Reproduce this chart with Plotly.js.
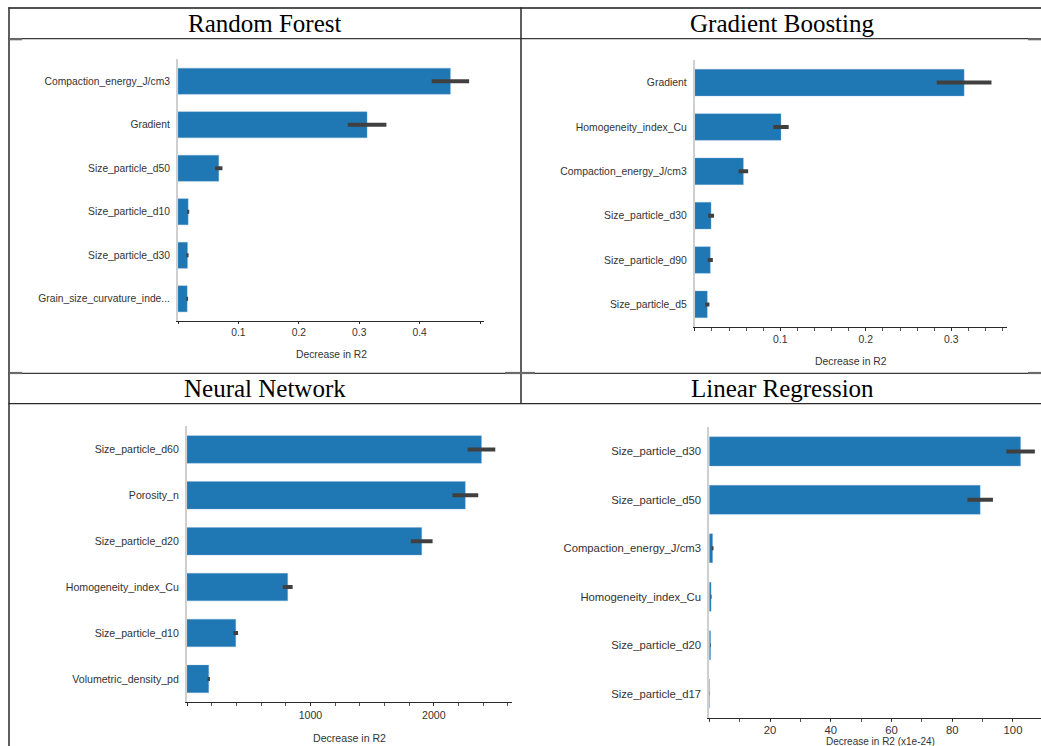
<!DOCTYPE html>
<html>
<head>
<meta charset="utf-8">
<script src="https://cdn.plot.ly/plotly-3.0.1.min.js"></script>
<style>
  html, body { margin: 0; padding: 0; background: #fff; overflow: hidden; }
  #chart { width: 1041px; height: 746px; }
</style>
</head>
<body>
<div id="chart"></div>
<script>
// Permutation feature importance (decrease in R2) for four models

const rfFeatures = ["Compaction_energy_J/cm3", "Gradient", "Size_particle_d50", "Size_particle_d10", "Size_particle_d30", "Grain_size_curvature_inde..."];
const rfValues = [0.451, 0.313, 0.0675, 0.0168, 0.0157, 0.0152];
const rfErrors = [0.031, 0.032, 0.006, 0.0018, 0.0018, 0.0015];

const gbFeatures = ["Gradient", "Homogeneity_index_Cu", "Compaction_energy_J/cm3", "Size_particle_d30", "Size_particle_d90", "Size_particle_d5"];
const gbValues = [0.315, 0.1008, 0.0568, 0.019, 0.0181, 0.0146];
const gbErrors = [0.032, 0.009, 0.0056, 0.0035, 0.003, 0.0025];

const nnFeatures = ["Size_particle_d60", "Porosity_n", "Size_particle_d20", "Homogeneity_index_Cu", "Size_particle_d10", "Volumetric_density_pd"];
const nnValues = [2386, 2255, 1902, 816, 395, 176];
const nnErrors = [112, 105, 88, 40, 19, 10];

const lrFeatures = ["Size_particle_d30", "Size_particle_d50", "Compaction_energy_J/cm3", "Homogeneity_index_Cu", "Size_particle_d20", "Size_particle_d17"];
const lrValues = [102.5, 89.2, 1.1, 0.6, 0.45, 0.12];
const lrErrors = [4.7, 4.2, 0.3, 0.15, 0.1, 0.05];

const panelTitles = ["Random Forest", "Gradient Boosting", "Neural Network", "Linear Regression"];
const rfTickVals = [0, 0.1, 0.2, 0.3, 0.4, 0.5];
const rfTickText = ["", "0.1", "0.2", "0.3", "0.4", ""];
const rfLongTicks = [0, 0.2, 0.4];
const gbTickVals = [0, 0.1, 0.2, 0.3];
const gbTickText = ["", "0.1", "0.2", "0.3"];
const nnTickVals = [0, 1000, 2000];
const nnTickText = ["", "1000", "2000"];
const lrTickVals = [0, 20, 40, 60, 80, 100];
const lrTickText = ["", "20", "40", "60", "80", "100"];
const axisTitle = "Decrease in R2";
const lrAxisTitle = "Decrease in R2 (x1e-24)";

const W = 1041, H = 746;
const px = v => v / W;
const py = v => 1 - v / H;

const BAR = "#1f77b4";
const ERR = "#404040";
const TXT = "#333333";
const FONT = "Liberation Sans, Arial, sans-serif";

function barTrace(features, values, errors, xa, ya) {
  return {
    type: "bar", orientation: "h",
    x: values, y: features,
    xaxis: xa, yaxis: ya,
    marker: { color: BAR, line: { color: "rgba(120,170,215,0.6)", width: 0.6 } },
    error_x: { type: "data", array: errors, color: ERR, thickness: 4, width: 0 },
    hoverinfo: "x+y", showlegend: false
  };
}

const data = [
  barTrace(rfFeatures, rfValues, rfErrors, "x", "y"),
  barTrace(gbFeatures, gbValues, gbErrors, "x2", "y2"),
  barTrace(nnFeatures, nnValues, nnErrors, "x3", "y3"),
  barTrace(lrFeatures, lrValues, lrErrors, "x4", "y4")
];

// labelled axis with short ticks (the tick length also sets the label offset)
function xAxis(dom, anchor, range, tv, tt, minorDtick, fs, tlen) {
  return {
    domain: dom, anchor: anchor, range: range, fixedrange: true,
    showgrid: false, zeroline: false,
    showline: true, linecolor: "#2a2a2a", linewidth: 1,
    ticks: "outside", ticklen: tlen, tickcolor: "#2a2a2a", tickwidth: 1,
    tickmode: "array", tickvals: tv, ticktext: tt,
    minor: minorDtick ? { dtick: minorDtick, tick0: 0, ticks: "outside", ticklen: 2.5, tickcolor: "#555", tickwidth: 1, showgrid: false } : undefined,
    tickfont: { family: FONT, size: fs, color: TXT }
  };
}

// overlay axis carrying only the longer ticks
function longTicks(over, anchor, range, tv) {
  return {
    overlaying: over, anchor: anchor, range: range, fixedrange: true,
    showgrid: false, zeroline: false, showline: false,
    ticks: "outside", ticklen: 6, tickcolor: "#2a2a2a", tickwidth: 1,
    tickmode: "array", tickvals: tv, showticklabels: false
  };
}

function yAxis(dom, anchor, cats, fs) {
  return {
    domain: dom, anchor: anchor, fixedrange: true,
    type: "category", categoryorder: "array", categoryarray: cats,
    range: [5.51, -0.51],
    showgrid: false, zeroline: false,
    showline: true, linecolor: "#cfcfcf", linewidth: 2,
    ticks: "", ticklabelstandoff: 4,
    tickfont: { family: FONT, size: fs, color: TXT }
  };
}

const rfX = [px(178), px(484)], rfY = [py(321), py(59)];
const gbX = [px(694.8), px(1007.3)], gbY = [py(327), py(60)];
const nnX = [px(187), px(511.7)], nnY = [py(702.3), py(426)];
const lrX = [px(709.25), 1], lrY = [py(718.3), py(426.7)];

const rfRange = [0, 0.5066], gbRange = [0, 0.3655], nnRange = [0, 2631], lrRange = [0, 109.22];

const layout = {
  width: W, height: H,
  margin: { l: 0, r: 0, t: 0, b: 0, pad: 0 },
  paper_bgcolor: "#ffffff", plot_bgcolor: "#ffffff",
  bargap: 0.4,
  showlegend: false,
  xaxis: xAxis(rfX, "y", rfRange, rfTickVals, rfTickText, null, 10.3, 1.5),
  yaxis: yAxis(rfY, "x", rfFeatures, 10.3),
  xaxis2: xAxis(gbX, "y2", gbRange, gbTickVals, gbTickText, 0.02, 10.4, 2.8),
  yaxis2: yAxis(gbY, "x2", gbFeatures, 10.4),
  xaxis3: xAxis(nnX, "y3", nnRange, nnTickVals, nnTickText, 200, 10.6, 2.5),
  yaxis3: yAxis(nnY, "x3", nnFeatures, 10.6),
  xaxis4: xAxis(lrX, "y4", lrRange, lrTickVals, lrTickText, 10, 11.3, 1.5),
  yaxis4: yAxis(lrY, "x4", lrFeatures, 11.3),
  xaxis5: longTicks("x", "y", rfRange, rfLongTicks),
  xaxis6: longTicks("x2", "y2", gbRange, gbTickVals),
  xaxis7: longTicks("x3", "y3", nnRange, nnTickVals),
  xaxis8: longTicks("x4", "y4", lrRange, lrTickVals),
  annotations: [],
  shapes: []
};

// panel titles in the table header rows
const titlePos = [[265, 23.7], [782, 23.7], [265, 388.2], [782, 388.2]];
panelTitles.forEach((t, i) => {
  layout.annotations.push({
    xref: "paper", yref: "paper", x: px(titlePos[i][0]), y: py(titlePos[i][1]),
    xanchor: "center", yanchor: "middle", showarrow: false,
    text: t, font: { family: "Liberation Serif, Times New Roman, serif", size: 25, color: "#000" }
  });
});

// axis titles under each plot
const xTitles = [[axisTitle, 331, 354, 10.3], [axisTitle, 851, 361, 10.4], [axisTitle, 349, 737.7, 10.6], [lrAxisTitle, 880, 741.3, 10]];
xTitles.forEach(([t, x, y, fs]) => {
  layout.annotations.push({
    xref: "paper", yref: "paper", x: px(x), y: py(y),
    xanchor: "center", yanchor: "middle", showarrow: false,
    text: t, font: { family: FONT, size: fs, color: TXT }
  });
});

// table rules
function hLine(y, x0, x1, w, c) {
  layout.shapes.push({ type: "line", xref: "paper", yref: "paper", x0: px(x0), x1: px(x1), y0: py(y), y1: py(y), line: { color: c, width: w } });
}
function vLine(x, y0, y1, w, c) {
  layout.shapes.push({ type: "line", xref: "paper", yref: "paper", x0: px(x), x1: px(x), y0: py(y0), y1: py(y1), line: { color: c, width: w } });
}
hLine(8, 8.5, 1041, 1.5, "#1a1a1a");
hLine(38.6, 8.5, 1041, 1.3, "#3a3a3a");
hLine(373.3, 8.5, 1041, 1.3, "#3a3a3a");
hLine(403.6, 8.5, 1041, 1.3, "#2a2a2a");
vLine(9, 7.3, 746, 1.5, "#2a2a2a");
vLine(521, 7.3, 404, 1.5, "#2a2a2a");
// small gray joins at the cell corners
hLine(39.2, 9, 22, 2.2, "#6a6a6a");
hLine(39.2, 1028, 1041, 2.2, "#6a6a6a");
hLine(373, 505, 535, 2.2, "#6a6a6a");
hLine(373, 9, 22, 2.2, "#6a6a6a");
hLine(373, 1028, 1041, 2.2, "#6a6a6a");

Plotly.newPlot("chart", data, layout, { staticPlot: true, displayModeBar: false });
</script>
</body>
</html>
